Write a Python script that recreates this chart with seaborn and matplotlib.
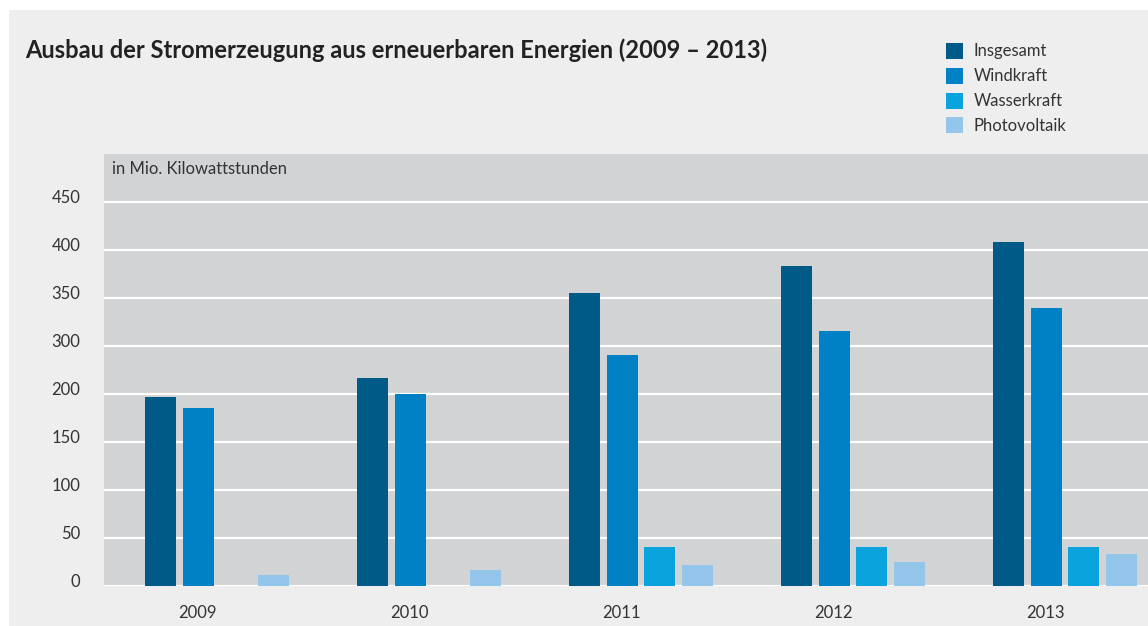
import pandas as pd
import numpy as np
import matplotlib
matplotlib.use("Agg")
import matplotlib.pyplot as plt
import matplotlib.patches as mpatches
from matplotlib.transforms import ScaledTranslation
import seaborn as sns

# -------------------------------------------------------------------
# Data (in Mio. Kilowattstunden)
# -------------------------------------------------------------------
years = ["2009", "2010", "2011", "2012", "2013"]
insgesamt = [197, 216, 305, 333, 358]
windkraft = [185, 200, 240, 266, 289]
wasserkraft = [0, 0, 40, 40, 40]
photovoltaik = [11, 16, 21.5, 24.5, 33]

series_names = ["Insgesamt", "Windkraft", "Wasserkraft", "Photovoltaik"]
series_colors = ["#005a87", "#0080c5", "#0ba3dd", "#93c6ea"]

y_ticks = [0, 50, 100, 150, 200, 250, 300, 350, 400]
y_tick_labels = ["0", "50", "100", "150", "200", "300", "350", "400", "450"]

df = pd.DataFrame({
    "Jahr": years * 4,
    "Quelle": np.repeat(series_names, len(years)),
    "Wert": insgesamt + windkraft + wasserkraft + photovoltaik,
})

# -------------------------------------------------------------------
# Plot
# -------------------------------------------------------------------
sns.set_style("white")
plt.rcParams["font.family"] = ["Lato", "DejaVu Sans"]
text_color = "#333333"
fs = 12

fig = plt.figure(figsize=(11.48, 6.26), dpi=100, facecolor="white")
fig.patches.append(mpatches.Rectangle((9 / 1148, 0), 1, 1 - 10 / 626,
                                      transform=fig.transFigure,
                                      facecolor="#eeeeee", edgecolor="none", zorder=-10))

ax = fig.add_axes([104 / 1148, 1 - 585.7 / 626, 1 - 104 / 1148, (585.7 - 154) / 626])
ax.set_facecolor("#d2d3d5")

sns.barplot(data=df, x="Jahr", y="Wert", hue="Quelle", hue_order=series_names,
            palette=series_colors, width=0.711, gap=0.178, saturation=1,
            linewidth=0, edgecolor="none", legend=False, ax=ax, zorder=3)

ax.set_xlim(-0.533, 4.392)
ax.set_ylim(0, 450)

ax.set_yticks(y_ticks)
ax.set_yticklabels(y_tick_labels)
ax.grid(axis="y", color="white", linewidth=1.6, zorder=1)
ax.set_axisbelow(True)
ax.set_xticks(np.arange(len(years)) - 0.09)
ax.set_xticklabels(years)
ax.tick_params(axis="both", length=0, labelsize=fs, colors=text_color)
ax.tick_params(axis="y", pad=17)
ax.tick_params(axis="x", pad=14)
for lbl in ax.get_yticklabels():
    lbl.set_transform(lbl.get_transform() + ScaledTranslation(0, 4 / 72, fig.dpi_scale_trans))
ax.set_xlabel("")
ax.set_ylabel("")
for s in ax.spines.values():
    s.set_visible(False)

ax.text(8 / 1044, 1 - 15 / 432, "in Mio. Kilowattstunden", transform=ax.transAxes,
        fontsize=fs, color=text_color, va="center", ha="left")

fig.text(25 / 1148, 1 - 50 / 626, "Ausbau der Stromerzeugung aus erneuerbaren Energien (2009 – 2013)",
         fontsize=17, fontweight="bold", color="#222222", va="center", ha="left")

handles = [mpatches.Patch(facecolor=c, edgecolor="none") for c in series_colors]
fig.legend(handles, series_names, loc="upper left",
           bbox_to_anchor=(946 / 1148, 1 - 42.5 / 626), frameon=False,
           fontsize=fs, labelcolor=text_color, borderpad=0, borderaxespad=0,
           handlelength=1.0, handleheight=1.1, handletextpad=0.65, labelspacing=0.5)

plt.savefig("out.png", dpi=100, facecolor=fig.get_facecolor())
plt.close()
